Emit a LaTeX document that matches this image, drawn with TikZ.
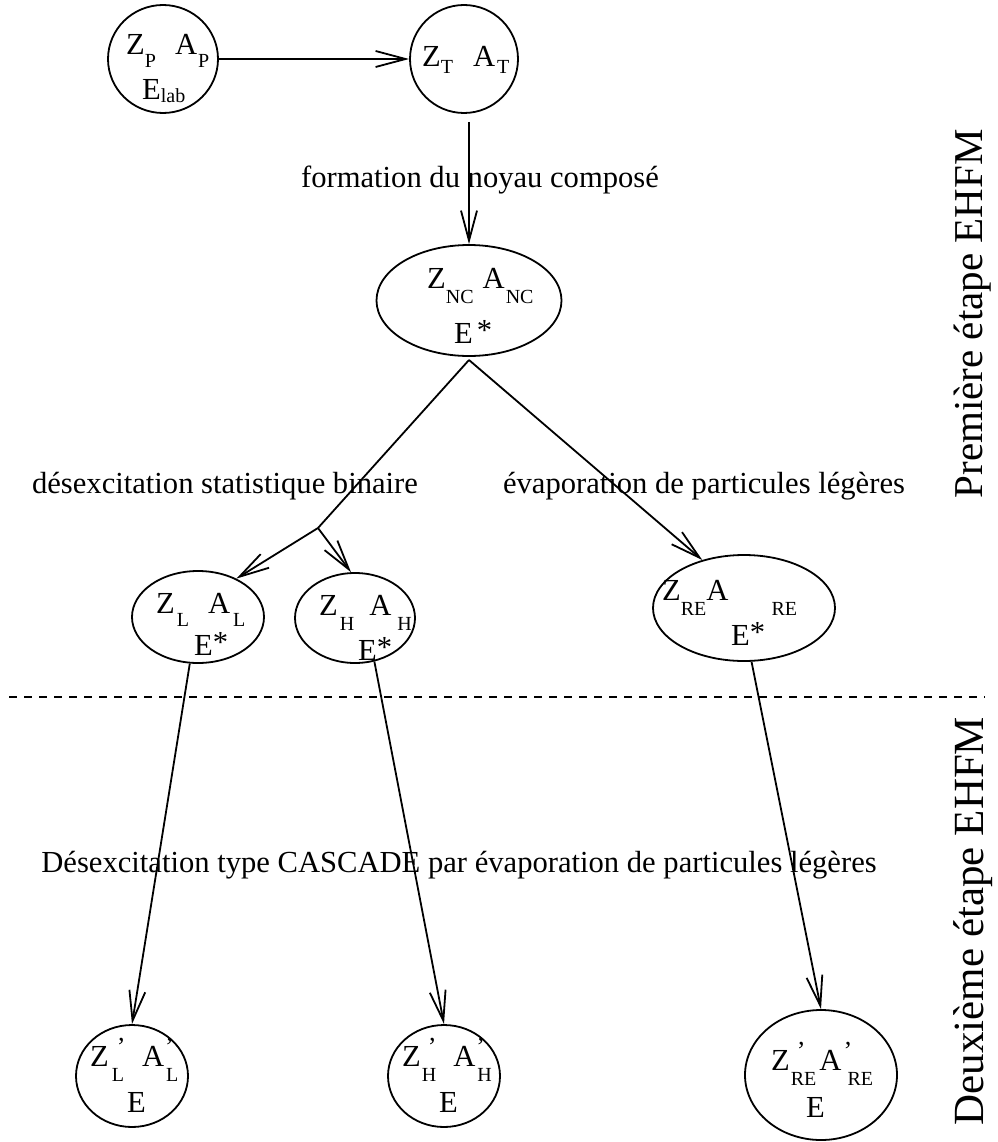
\documentclass[tikz,border=0pt]{standalone}
\usepackage{fontspec}
\setmainfont{Liberation Serif}
\usetikzlibrary{shapes.geometric,arrows.meta}
\newcommand{\lo}[2][13pt]{\raisebox{-#1}{\fontsize{20}{20}\selectfont #2}}
\newcommand{\zp}[2]{\rlap{\hspace{#1}\raisebox{10.5pt}{\fontsize{26}{26}\selectfont ’}}\lo[15pt]{#2}}
\tikzset{
  nucl/.style={draw, ellipse, line width=1.8pt, inner sep=0pt},
  txt/.style={inner sep=0pt, anchor=base west, font=\fontsize{30.6}{36}\selectfont},
  lab/.style={inner sep=0pt, anchor=base, font=\fontsize{30.6}{36}\selectfont},
  side/.style={inner sep=0pt, anchor=base, rotate=90},
  conn/.style={line width=1.8pt},
  arr/.style={line width=1.8pt, -{Straight Barb[length=30pt,width=16pt,line width=1.8pt]}},
  sep/.style={line width=1.8pt, dash pattern=on 8pt off 7pt}
}
\begin{document}
\begin{tikzpicture}[x=1pt,y=-1pt]
\useasboundingbox (0,0) rectangle (997,1142);
% nuclei
\node[nucl, minimum width=110pt, minimum height=108pt] (P) at (163,59) {};
\node[nucl, minimum width=108pt, minimum height=108pt] (T) at (464,59) {};
\node[nucl, minimum width=185pt, minimum height=111pt] (NC) at (469,300.5) {};
\node[nucl, minimum width=132pt, minimum height=92pt] (L) at (198,617) {};
\node[nucl, minimum width=120pt, minimum height=90pt] (H) at (355,618) {};
\node[nucl, minimum width=182pt, minimum height=106pt] (RE) at (744,608) {};
\node[nucl, minimum width=112pt, minimum height=102pt] (Lp) at (132,1076) {};
\node[nucl, minimum width=112pt, minimum height=102pt] (Hp) at (444,1076) {};
\node[nucl, minimum width=152pt, minimum height=130pt] (REp) at (821,1075) {};
% texts inside nuclei
\node[txt] (P1) at (126,55) {Z\lo{P}\hspace{19pt}A\hspace{1pt}\lo{P}};
\node[txt] (P2) at (142,100) {E\lo[3pt]{lab}};
\node[txt] (T1) at (422,67) {Z\lo[7pt]{T}\hspace{20pt}A\hspace{2pt}\lo[7pt]{T}};
\node[txt] (NC1) at (427,288) {Z\lo[15pt]{NC}\hspace{9pt}A\hspace{1pt}\lo[15pt]{NC}};
\node[txt] (NC2) at (454,343) {E\hspace{4pt}\raisebox{3pt}{*}};
\node[txt] (L1) at (156,613) {Z\hspace{2pt}\lo{L}\hspace{19pt}A\hspace{3pt}\lo{L}};
\node[txt] (L2) at (194,655) {E\raisebox{3pt}{*}};
\node[txt] (H1) at (319,615) {Z\hspace{2pt}\lo[15pt]{H}\hspace{15pt}A\hspace{6pt}\lo[15pt]{H}};
\node[txt] (H2) at (358,660) {E\raisebox{3pt}{*}};
\node[txt] (RE1) at (662,600) {Z\lo[15pt]{RE}A\hspace{43pt}\lo[15pt]{RE}};
\node[txt] (RE2) at (731,645) {E\raisebox{3pt}{*}};
\node[txt] (Lp1) at (90,1066) {Z\hspace{3pt}\zp{5pt}{L}\hspace{18pt}A\hspace{2pt}\zp{-1pt}{L}};
\node[txt] (Lp2) at (127,1112) {E};
\node[txt] (Hp1) at (402,1066) {Z\hspace{1pt}\zp{6pt}{H}\hspace{17pt}A\hspace{2pt}\zp{-1pt}{H}};
\node[txt] (Hp2) at (439,1112) {E};
\node[txt] (REp1) at (771,1070) {Z\hspace{1pt}\zp{6pt}{RE}\hspace{3pt}A\hspace{6pt}\zp{-4pt}{RE}};
\node[txt] (REp2) at (806,1117) {E};
% labels
\node[lab] (form) at (480,188) {formation du noyau composé};
\node[lab] (bin) at (225,493) {désexcitation statistique binaire};
\node[lab] (evap) at (704,493) {évaporation de particules légères};
\node[lab] (casc) at (459,872) {Désexcitation type CASCADE par évaporation de particules légères};
\node[side, font=\fontsize{41}{48}\selectfont] (st1) at (982,314) {Première étape EHFM};
\node[side, font=\fontsize{43}{50}\selectfont] (st2) at (983,921) {Deuxième étape EHFM};
% helper points
\coordinate (t1) at (469,122);
\coordinate (j) at (469,360);
\coordinate (br) at (318,528);
\coordinate (d1) at (9,697);
\coordinate (d2) at (985,697);
% connectors
\draw[arr] (P) -- (T);
\draw[arr] (t1) -- (NC.north);
\draw[conn] (j) -- (br);
\draw[arr] (j) -- (RE.131);
\draw[arr] (br) -- (L.45);
\draw[arr] (br) -- (H.95);
\draw[arr] (L.260) -- (Lp.north);
\draw[arr] (H.294) -- (Hp.north);
\draw[arr] (RE.278) -- (REp.north);
\draw[sep] (d1) -- (d2);
\end{tikzpicture}
\end{document}
